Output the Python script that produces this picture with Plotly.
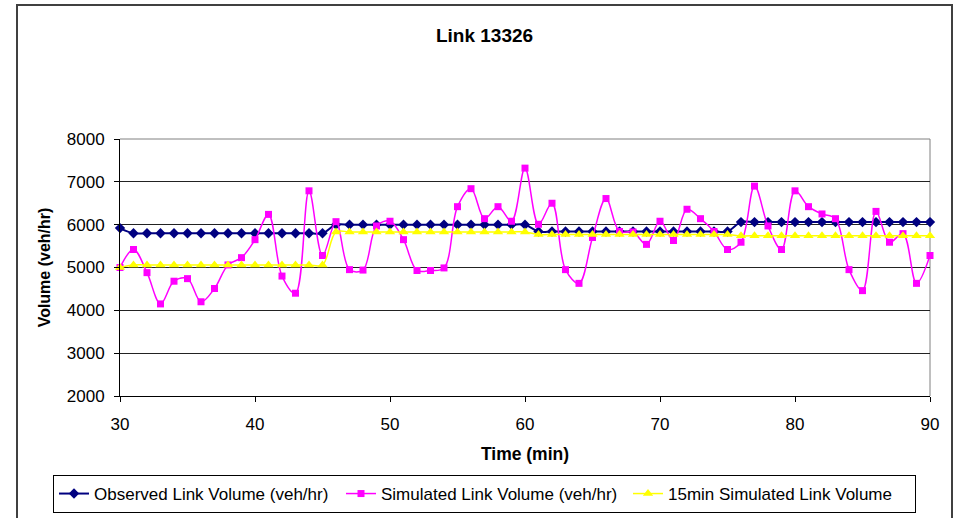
import plotly.graph_objects as go

minutes = list(range(30, 91))

observed = [5920,
            5800, 5800, 5800, 5800, 5800, 5800, 5800, 5800, 5800, 5800, 5800, 5800, 5800, 5800, 5800,
            6000, 6000, 6000, 6000, 6000, 6000, 6000, 6000, 6000, 6000, 6000, 6000, 6000, 6000, 6000,
            5840, 5840, 5840, 5840, 5840, 5840, 5840, 5840, 5840, 5840, 5840, 5840, 5840, 5840, 5840,
            6060, 6060, 6060, 6060, 6060, 6060, 6060, 6060, 6060, 6060, 6060, 6060, 6060, 6060, 6060]

simulated = [5000, 5420, 4880, 4150, 4680, 4740, 4200, 4510, 5060, 5230,
             5650, 6240, 4800, 4400, 6790, 5280, 6070, 4950, 4940, 5970,
             6080, 5650, 4930, 4930, 4990, 6420, 6840, 6140, 6420, 6080,
             7320, 6010, 6500, 4950, 4630, 5700, 6610, 5840, 5830, 5540,
             6080, 5630, 6360, 6140, 5840, 5420, 5590, 6900, 5970, 5420,
             6790, 6420, 6250, 6140, 4950, 4460, 6310, 5590, 5790, 4630,
             5280]

sim15 = [5000,
         5060, 5060, 5060, 5060, 5060, 5060, 5060, 5060, 5060, 5060, 5060, 5060, 5060, 5060, 5060,
         5830, 5830, 5830, 5830, 5830, 5830, 5830, 5830, 5830, 5830, 5830, 5830, 5830, 5830, 5830,
         5770, 5770, 5770, 5770, 5770, 5770, 5770, 5770, 5770, 5770, 5770, 5770, 5770, 5770, 5770,
         5740, 5740, 5740, 5740, 5740, 5740, 5740, 5740, 5740, 5740, 5740, 5740, 5740, 5740, 5740]

x_ticks = [30, 40, 50, 60, 70, 80, 90]
y_ticks = [2000, 3000, 4000, 5000, 6000, 7000, 8000]

FONT = "Arial, Liberation Sans, sans-serif"

fig = go.Figure()
fig.add_trace(go.Scatter(
    x=minutes, y=observed, name="Observed Link Volume (veh/hr)",
    mode="lines+markers", cliponaxis=False,
    line=dict(color="#000080", width=2, shape="spline", smoothing=1),
    marker=dict(symbol="diamond", size=8, color="#000080")))
fig.add_trace(go.Scatter(
    x=minutes, y=simulated, name="Simulated Link Volume (veh/hr)",
    mode="lines+markers", cliponaxis=False,
    line=dict(color="#FF00FF", width=1.5, shape="spline", smoothing=1),
    marker=dict(symbol="square", size=7, color="#FF00FF")))
fig.add_trace(go.Scatter(
    x=minutes, y=sim15, name="15min Simulated Link Volume",
    mode="lines+markers", cliponaxis=False,
    line=dict(color="#FFFF00", width=1.5, shape="spline", smoothing=1),
    marker=dict(symbol="triangle-up", size=9, color="#FFFF00")))

L, R, T, B = 120, 26, 139, 122
W, H = 956, 518
pw, ph = W - L - R, H - T - B

def px_x(p):
    return (p - L) / pw

def px_y(p):
    return (H - B - p) / ph

fig.update_layout(
    width=W, height=H,
    margin=dict(l=L, r=R, t=T, b=B, autoexpand=False),
    paper_bgcolor="white", plot_bgcolor="white",
    font=dict(family=FONT, size=17, color="black"),
    title=dict(text="<b>Link 13326</b>", x=484.5 / W, xanchor="center",
               y=1 - 35 / H, yanchor="middle", xref="container", yref="container",
               font=dict(size=19, family=FONT)),
    showlegend=True,
    legend=dict(orientation="h", xref="paper", yref="paper",
                x=px_x(53), xanchor="left",
                y=px_y(475), yanchor="top",
                bordercolor="black", borderwidth=1, bgcolor="white",
                font=dict(size=17, family=FONT), itemwidth=30,
                entrywidth=242, entrywidthmode="pixels",
                tracegroupgap=0),
    xaxis=dict(range=[30, 90], tickvals=x_ticks, showgrid=False,
               showline=True, linecolor="black", linewidth=1,
               ticks="outside", ticklen=5, tickcolor="black",
               ticklabelstandoff=8, zeroline=False, automargin=False,
               title=dict(text="<b>Time (min)</b>", standoff=14,
                          font=dict(size=17.5, family=FONT))),
    yaxis=dict(range=[2000, 8000], tickvals=y_ticks, showgrid=True,
               gridcolor="#222222", gridwidth=1,
               showline=True, linecolor="black", linewidth=1,
               ticks="outside", ticklen=5, tickcolor="black",
               ticklabelstandoff=6, zeroline=False, automargin=False,
               title=dict(text="<b>Volume (veh/hr)</b>", standoff=12,
                          font=dict(size=16, family=FONT))),
    shapes=[
        dict(type="line", xref="x domain", yref="y domain", x0=0, x1=1, y0=1, y1=1,
             line=dict(color="#808080", width=1), layer="above"),
        dict(type="line", xref="x domain", yref="y domain", x0=1, x1=1, y0=0, y1=1,
             line=dict(color="#808080", width=1), layer="below"),
        dict(type="rect", xref="paper", yref="paper",
             x0=px_x(17), x1=px_x(952), y0=px_y(530), y1=px_y(5),
             line=dict(color="#404040", width=2), layer="below"),
    ],
)

fig.write_html("out.html")
